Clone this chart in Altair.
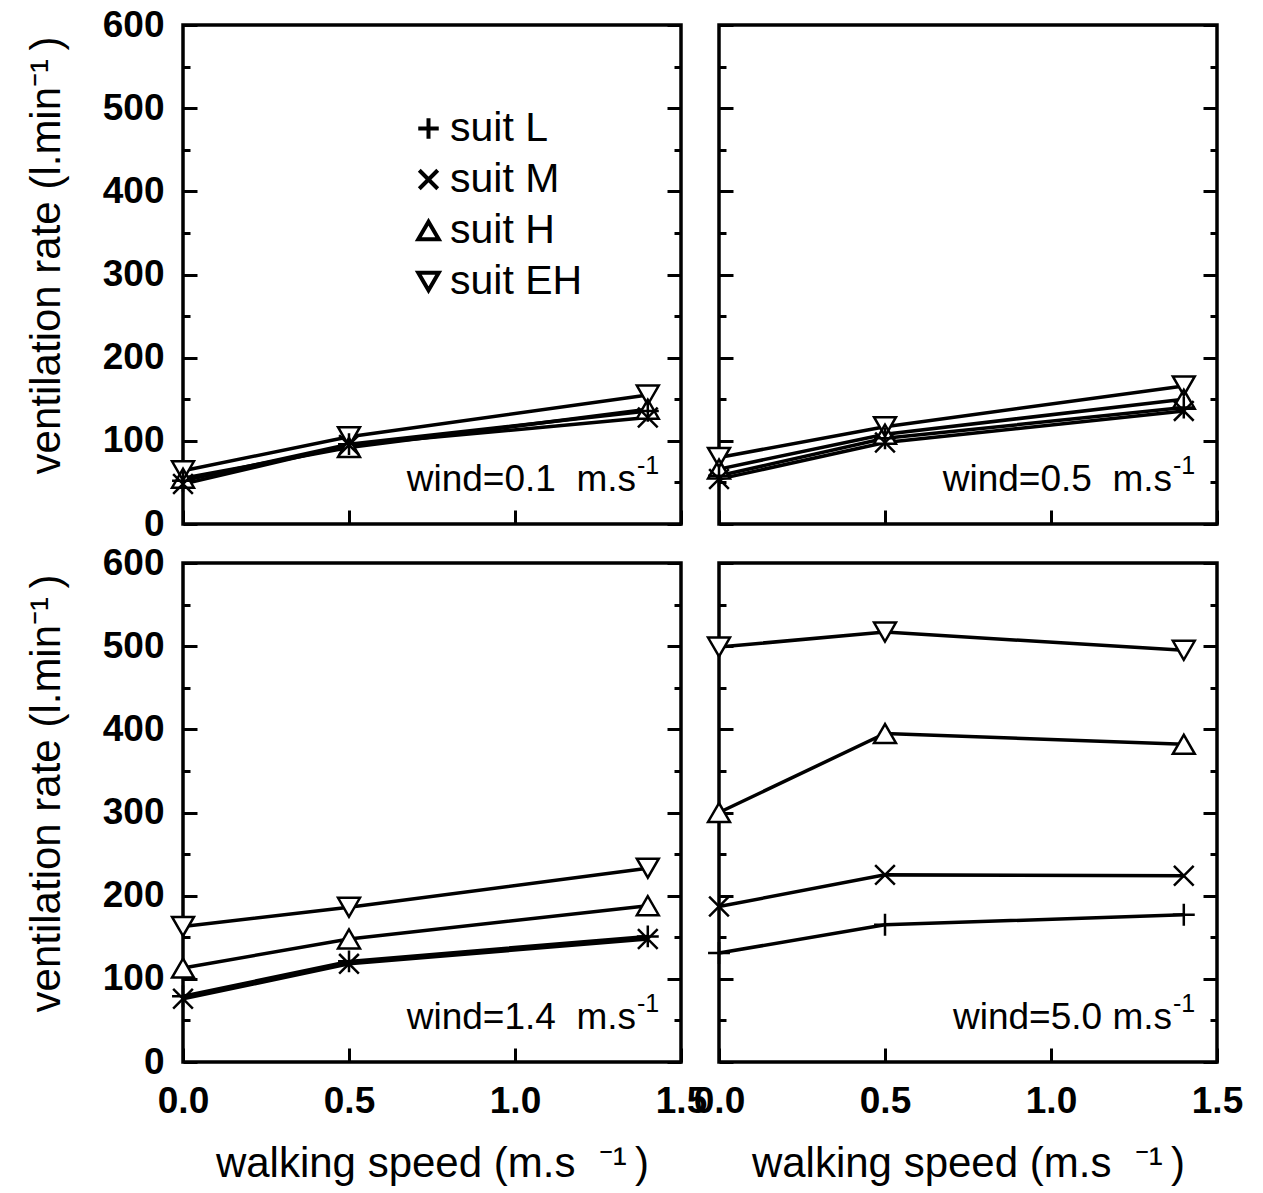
import altair as alt
import pandas as pd

FONT = "Liberation Sans"
NB = "\u00a0"

speeds = [0.0, 0.5, 1.4]
suits = ["suit L", "suit M", "suit H", "suit EH"]
winds = ["0.1", "0.5", "1.4", "5.0"]
wind_texts = ["wind=0.1" + NB + " m.s", "wind=0.5" + NB + " m.s",
              "wind=1.4" + NB + " m.s", "wind=5.0 m.s"]

# ventilation rate (l/min) per wind speed, per suit, at walking speeds 0, 0.5, 1.4
w01_L = [52, 96, 136]
w01_M = [48, 95, 128]
w01_H = [55, 92, 138]
w01_EH = [64, 105, 155]

w05_L = [58, 103, 140]
w05_M = [54, 98, 136]
w05_H = [66, 108, 150]
w05_EH = [80, 117, 166]

w14_L = [79, 121, 151]
w14_M = [76, 118, 148]
w14_H = [113, 148, 188]
w14_EH = [163, 186, 233]

w50_L = [131, 165, 177]
w50_M = [187, 225, 224]
w50_H = [300, 395, 382]
w50_EH = [499, 517, 495]

table = {
    "0.1": [w01_L, w01_M, w01_H, w01_EH],
    "0.5": [w05_L, w05_M, w05_H, w05_EH],
    "1.4": [w14_L, w14_M, w14_H, w14_EH],
    "5.0": [w50_L, w50_M, w50_H, w50_EH],
}

rows = []
for w in winds:
    for s, vals in zip(suits, table[w]):
        for sp, v in zip(speeds, vals):
            rows.append({"wind": w, "suit": s, "speed": sp, "vent": v})
df = pd.DataFrame(rows)

W = 498
H = 499

plus_path = "M-1,0L1,0M0,-1L0,1"
x_path = "M-0.9,-0.9L0.9,0.9M-0.9,0.9L0.9,-0.9"
shape_range = [plus_path, x_path, "triangle-up", "triangle-down"]

xscale = alt.Scale(domain=[0, 1.5], nice=False, zero=False)
yscale = alt.Scale(domain=[0, 600], nice=False)

Y_TITLE = "ventilation rate (l.min\u207b\u00b9\u2009)"
X_TITLE = "walking speed (m.s" + NB + NB + "\u207b\u00b9\u2009)"


def panel(i, xlab, ylab, legend):
    d = df[df["wind"] == winds[i]]
    base = alt.Chart(d)

    x_axis = alt.Axis(orient="bottom", values=[0, 0.5, 1.0, 1.5], format=".1f",
                      tickSize=14, offset=-14, domain=False, grid=False,
                      labels=xlab, labelFlush=False, labelOverlap=False,
                      labelPadding=21, labelFontSize=37, labelFontWeight="bold",
                      labelFont=FONT, labelColor="black", tickColor="black", tickWidth=3,
                      title=X_TITLE if xlab else None, titleFont=FONT, titleFontSize=42,
                      titleFontWeight="normal", titleColor="black", titlePadding=24)
    y_major_left = alt.Axis(orient="left", values=[0, 100, 200, 300, 400, 500, 600],
                            tickSize=14, offset=-14, domain=False, grid=False,
                            labels=ylab, labelPadding=19, labelFontSize=37,
                            labelFontWeight="bold", labelFont=FONT, labelColor="black",
                            tickColor="black", tickWidth=3,
                            title=Y_TITLE if ylab else None, titleFont=FONT, titleFontSize=42,
                            titleFontWeight="normal", titleColor="black", titlePadding=34,
                            titleY=230)
    y_major_right = alt.Axis(orient="right", values=[0, 100, 200, 300, 400, 500, 600],
                             tickSize=14, offset=-14, domain=False, grid=False, labels=False,
                             tickColor="black", tickWidth=3, title=None)
    minor_vals = [50, 150, 250, 350, 450, 550]
    y_minor_left = alt.Axis(orient="left", values=minor_vals, tickSize=7, offset=-7,
                            domain=False, grid=False, labels=False, tickColor="black",
                            tickWidth=3, title=None)
    y_minor_right = alt.Axis(orient="right", values=minor_vals, tickSize=7, offset=-7,
                             domain=False, grid=False, labels=False, tickColor="black",
                             tickWidth=3, title=None)

    lines = base.mark_line(color="black", strokeWidth=3.5).encode(
        x=alt.X("speed:Q", scale=xscale, axis=x_axis),
        y=alt.Y("vent:Q", scale=yscale, axis=y_major_left),
        detail="suit:N",
    )
    under = base.mark_point(filled=True, color="white", size=480, opacity=1).encode(
        x=alt.X("speed:Q", scale=xscale, axis=None),
        y=alt.Y("vent:Q", scale=yscale, axis=None),
        shape=alt.Shape("suit:N", scale=alt.Scale(domain=suits, range=shape_range),
                        legend=None),
    )
    if legend:
        leg = alt.Legend(orient="none", legendX=225, legendY=83, title=None,
                         labelFont=FONT, labelFontSize=41, labelColor="black",
                         symbolSize=420, symbolStrokeWidth=4,
                         symbolStrokeColor="black", rowPadding=9,
                         labelOffset=1, padding=0)
    else:
        leg = None
    pts = base.mark_point(filled=False, color="black", strokeWidth=2.5,
                          size=480, opacity=1).encode(
        x=alt.X("speed:Q", scale=xscale, axis=None),
        y=alt.Y("vent:Q", scale=yscale, axis=y_major_right),
        shape=alt.Shape("suit:N", scale=alt.Scale(domain=suits, range=shape_range),
                        legend=leg),
    )
    minor_l = base.mark_point(opacity=0).encode(
        x=alt.X("speed:Q", scale=xscale, axis=None),
        y=alt.Y("vent:Q", scale=yscale, axis=y_minor_left),
    )
    minor_r = base.mark_point(opacity=0).encode(
        x=alt.X("speed:Q", scale=xscale, axis=None),
        y=alt.Y("vent:Q", scale=yscale, axis=y_minor_right),
    )
    ann_df = pd.DataFrame({"t": [wind_texts[i]], "s": ["-1"]})
    ann = alt.Chart(ann_df).mark_text(align="right", baseline="alphabetic", font=FONT,
                                      fontSize=37, color="black").encode(
        x=alt.value(W - 45), y=alt.value(H - 33), text="t:N")
    sup = alt.Chart(ann_df).mark_text(align="left", baseline="alphabetic", font=FONT,
                                      fontSize=25, color="black").encode(
        x=alt.value(W - 44), y=alt.value(H - 50), text="s:N")

    return alt.layer(minor_l, minor_r, lines, under, pts, ann, sup).resolve_axis(
        x="independent", y="independent").resolve_scale(
        shape="independent").resolve_legend(shape="independent").properties(
        width=W, height=H)


chart = alt.concat(
    panel(0, False, True, True), panel(1, False, False, False),
    panel(2, True, True, False), panel(3, True, False, False),
    columns=2, spacing={"row": 39, "column": 38}, bounds="flush",
).resolve_scale(shape="independent").resolve_legend(shape="independent").properties(
    padding={"left": 15, "top": -4, "right": 5, "bottom": 5}, background="white"
).configure_view(stroke="black", strokeWidth=3.5)

chart.save("out.html", embed_options={"renderer": "svg", "actions": False})
